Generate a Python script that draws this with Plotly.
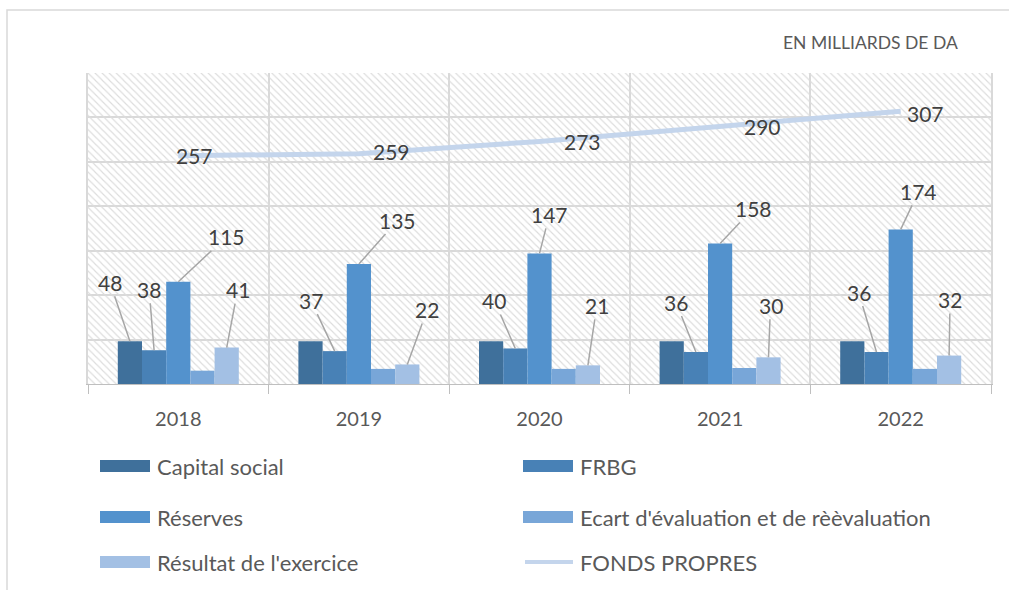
import plotly.graph_objects as go

# values (milliards de DA)
years = ["2018", "2019", "2020", "2021", "2022"]
capital_social = [48, 48, 48, 48, 48]
frbg = [38, 37, 40, 36, 36]
reserves = [115, 135, 147, 158, 174]
ecart = [15, 17, 17, 18, 17]
resultat = [41, 22, 21, 30, 32]
fonds_propres = [257, 259, 273, 290, 307]

series_names = [
    "Capital social",
    "FRBG",
    "Réserves",
    "Ecart d'évaluation et de rèèvaluation",
    "Résultat de l'exercice",
]
series_values = [capital_social, frbg, reserves, ecart, resultat]
line_name = "FONDS PROPRES"
unit_label = "EN MILLIARDS DE DA"

colors = ["#3f709b", "#4881b6", "#5392cd", "#78a6d8", "#a3c0e4"]
line_color = "#c4d5ec"
text_color = "#404040"
grey_text = "#595959"
grid_color = "#d9d9d9"
leader_color = "#a6a6a6"
FONT = "Lato"

W, H = 1009, 590
ML, MR, MT, MB = 88, 18, 73, 206
plot_w = W - ML - MR
plot_h = H - MT - MB

y_max = 350
bar_gap = 0.33
bar_w = (1 - bar_gap) / len(series_names)

# data labels that exist in the reference: (series, year) -> text offset in px
label_offsets = {
    (0, 0): (-20, -59), (1, 0): (-5, -61), (2, 0): (48, -45), (4, 0): (11, -58),
    (1, 1): (-24, -51), (2, 1): (39, -44), (4, 1): (20, -55),
    (1, 2): (-21, -48), (2, 2): (10, -39), (4, 2): (9, -60),
    (1, 3): (-20, -50), (2, 3): (33, -35), (4, 3): (2, -52),
    (1, 4): (-18, -60), (2, 4): (18, -38), (4, 4): (1, -56),
}
line_label_shift = [(16, 0), (33, 2), (43, 0), (42, 0), (25, -2)]


def px(x):
    return (x - ML) / plot_w


def py(y):
    return (H - MB - y) / plot_h


fig = go.Figure()

# hatched plot background
fig.add_trace(go.Bar(
    x=years, y=[y_max] * len(years), width=1, offset=-0.5,
    marker=dict(color="#dcdcdc", line_width=0,
                pattern=dict(shape="\\", fgcolor="#dcdcdc", size=5,
                             solidity=0.22, fillmode="replace")),
    showlegend=False, hoverinfo="skip",
))

for i, (name, vals) in enumerate(zip(series_names, series_values)):
    fig.add_trace(go.Bar(
        x=years, y=vals, name=name, width=bar_w,
        offset=-(1 - bar_gap) / 2 + i * bar_w,
        marker=dict(color=colors[i], line_width=0),
        showlegend=False,
    ))

fig.add_trace(go.Scatter(
    x=years, y=fonds_propres, mode="lines", name=line_name,
    line=dict(color=line_color, width=5), showlegend=False,
))

annotations = []
for (si, yi), (ax, ay) in label_offsets.items():
    annotations.append(dict(
        x=yi + (si - 2) * bar_w, y=series_values[si][yi], xref="x", yref="y",
        text=str(series_values[si][yi]), showarrow=True, arrowhead=0,
        arrowwidth=1.5, arrowcolor=leader_color, ax=ax, ay=ay, standoff=0,
        font=dict(size=21, color=text_color, family=FONT),
    ))

for yi, v in enumerate(fonds_propres):
    dx, dy = line_label_shift[yi]
    annotations.append(dict(
        x=yi, y=v, xref="x", yref="y", text=str(v), showarrow=False,
        xshift=dx, yshift=dy,
        font=dict(size=21, color=text_color, family=FONT),
    ))

annotations.append(dict(
    x=px(960), y=py(42), xref="paper", yref="paper", text=unit_label,
    showarrow=False, xanchor="right", yanchor="middle",
    font=dict(size=17.5, color=grey_text, family=FONT),
))

# legend drawn by hand: two columns, three rows, wide swatches
shapes = [dict(type="rect", xref="paper", yref="paper",
               x0=px(7), x1=px(W + 10), y0=py(10), y1=py(H + 10),
               line=dict(color=grid_color, width=1.5))]
legend_items = list(zip(series_names, colors)) + [(line_name, line_color)]
col_x = [100, 523]
row_y = [466, 517, 562]
for k, (name, col) in enumerate(legend_items):
    x0 = col_x[k % 2]
    yc = row_y[k // 2]
    if name == line_name:
        shapes.append(dict(type="line", xref="paper", yref="paper",
                           x0=px(x0 + 2), x1=px(x0 + 50), y0=py(yc), y1=py(yc),
                           line=dict(color=col, width=4)))
    else:
        shapes.append(dict(type="rect", xref="paper", yref="paper",
                           x0=px(x0), x1=px(x0 + 50), y0=py(yc - 6), y1=py(yc + 6),
                           fillcolor=col, line_width=0))
    annotations.append(dict(
        x=px(x0 + 55), y=py(yc), xref="paper", yref="paper", text=name,
        showarrow=False, xanchor="left", yanchor="middle",
        font=dict(size=22, color=grey_text, family=FONT),
    ))

fig.update_layout(
    width=W, height=H,
    margin=dict(l=ML, r=MR, t=MT, b=MB),
    paper_bgcolor="white", plot_bgcolor="white",
    barmode="overlay",
    font=dict(family=FONT, color=grey_text),
    annotations=annotations, shapes=shapes,
    showlegend=False,
    xaxis=dict(type="category", tickson="boundaries", showgrid=True,
               gridcolor=grid_color, gridwidth=2,
               ticks="outside", ticklen=9, tickcolor="#bfbfbf",
               showline=True, linecolor="#bfbfbf", linewidth=1,
               tickfont=dict(size=20, color=grey_text, family=FONT),
               ticklabelstandoff=17, fixedrange=True),
    yaxis=dict(range=[0, y_max], dtick=50, showgrid=True,
               gridcolor=grid_color, gridwidth=2, showticklabels=False,
               zeroline=False, showline=True, linecolor=grid_color,
               linewidth=2, mirror=True, fixedrange=True),
)

fig.write_html("out.html", config={"displayModeBar": False},
               post_script="document.body.style.margin='0';"
                           "document.body.style.overflow='hidden';")
